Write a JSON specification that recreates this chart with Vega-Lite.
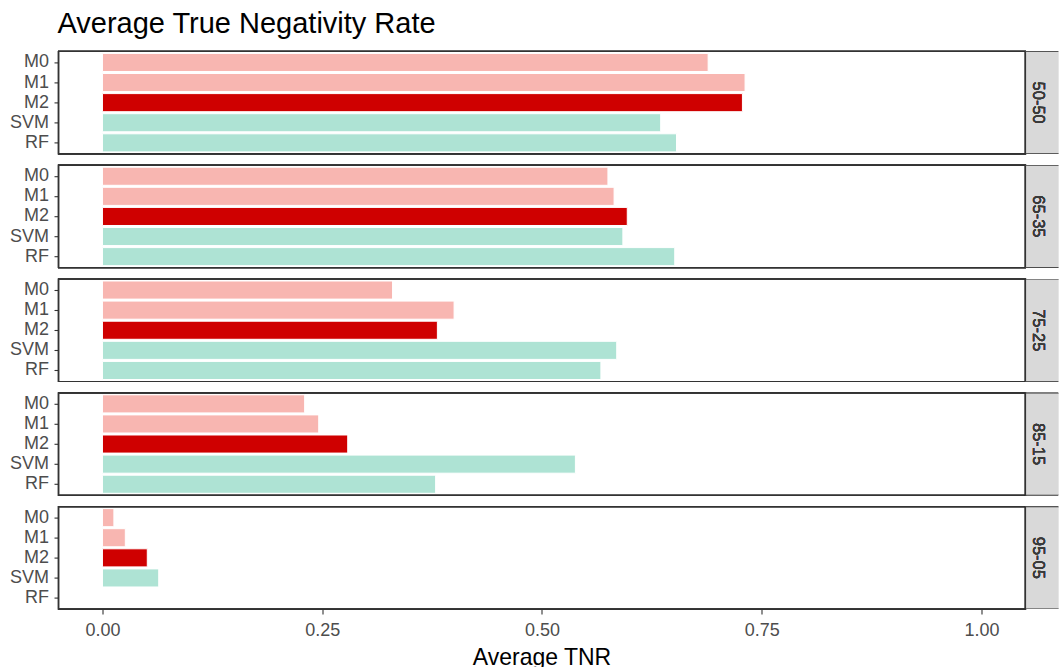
{
  "$schema": "https://vega.github.io/schema/vega-lite/v6.json",
  "padding": {"left": 8.5, "top": 10.4, "right": 0, "bottom": 0},
  "bounds": "flush",
  "title": {
    "text": "Average True Negativity Rate",
    "anchor": "start",
    "font": "Liberation Sans",
    "fontSize": 29,
    "fontWeight": "normal",
    "color": "#000000",
    "offset": 11.3,
    "dx": 48
  },
  "data": {
    "values": [
      {"split": "50-50", "model": "M0", "tnr": 0.689},
      {"split": "50-50", "model": "M1", "tnr": 0.731},
      {"split": "50-50", "model": "M2", "tnr": 0.728},
      {"split": "50-50", "model": "SVM", "tnr": 0.635},
      {"split": "50-50", "model": "RF", "tnr": 0.653},
      {"split": "65-35", "model": "M0", "tnr": 0.575},
      {"split": "65-35", "model": "M1", "tnr": 0.582},
      {"split": "65-35", "model": "M2", "tnr": 0.597},
      {"split": "65-35", "model": "SVM", "tnr": 0.592},
      {"split": "65-35", "model": "RF", "tnr": 0.651},
      {"split": "75-25", "model": "M0", "tnr": 0.330},
      {"split": "75-25", "model": "M1", "tnr": 0.400},
      {"split": "75-25", "model": "M2", "tnr": 0.381},
      {"split": "75-25", "model": "SVM", "tnr": 0.585},
      {"split": "75-25", "model": "RF", "tnr": 0.567},
      {"split": "85-15", "model": "M0", "tnr": 0.230},
      {"split": "85-15", "model": "M1", "tnr": 0.246},
      {"split": "85-15", "model": "M2", "tnr": 0.279},
      {"split": "85-15", "model": "SVM", "tnr": 0.538},
      {"split": "85-15", "model": "RF", "tnr": 0.379},
      {"split": "95-05", "model": "M0", "tnr": 0.013},
      {"split": "95-05", "model": "M1", "tnr": 0.026},
      {"split": "95-05", "model": "M2", "tnr": 0.051},
      {"split": "95-05", "model": "SVM", "tnr": 0.064},
      {"split": "95-05", "model": "RF", "tnr": 0.0}
    ]
  },
  "facet": {
    "row": {
      "field": "split",
      "type": "nominal",
      "sort": ["50-50", "65-35", "75-25", "85-15", "95-05"],
      "header": null
    }
  },
  "spacing": 10.8,
  "spec": {
    "width": 999.7,
    "height": 102.5,
    "encoding": {
      "x": {
        "field": "tnr",
        "type": "quantitative",
        "scale": {"domain": [-0.05, 1.0872], "nice": false, "zero": false},
        "axis": {
          "values": [0, 0.25, 0.5, 0.75, 1],
          "format": ".2f",
          "title": "Average TNR",
          "labelPadding": 8,
          "titleFontSize": 23,
          "titleX": 483,
          "titleY": 55,
          "titleAlign": "center",
          "titleBaseline": "alphabetic"
        }
      },
      "y": {
        "field": "model",
        "type": "nominal",
        "sort": ["M0", "M1", "M2", "SVM", "RF"],
        "scale": {"paddingInner": 0.1, "paddingOuter": 0.1},
        "axis": {"title": null, "labelPadding": 5.5}
      }
    },
    "layer": [
      {
        "mark": {"type": "bar", "stroke": "white", "strokeWidth": 1},
        "encoding": {
          "color": {
            "field": "model",
            "type": "nominal",
            "scale": {
              "domain": ["M0", "M1", "M2", "SVM", "RF"],
              "range": ["#F8B6B1", "#F8B6B1", "#CF0000", "#AEE3D4", "#AEE3D4"]
            },
            "legend": null
          }
        }
      },
      {
        "mark": {"type": "rect", "fill": "transparent", "stroke": "#333333", "strokeWidth": 1.2},
        "encoding": {
          "x": {"datum": -0.05},
          "x2": {"datum": 1.05},
          "y": null
        }
      },
      {
        "mark": {"type": "rect", "fill": "#D9D9D9", "stroke": "#333333", "strokeWidth": 1.2, "clip": true},
        "encoding": {
          "x": {"datum": 1.05},
          "x2": {"datum": 1.3},
          "y": null
        }
      },
      {
        "mark": {
          "type": "text",
          "angle": 90,
          "align": "center",
          "baseline": "middle",
          "font": "Liberation Sans",
          "fontSize": 16.5,
          "fontWeight": "normal",
          "color": "#3A3A3A"
        },
        "encoding": {
          "x": {"datum": 1.0637},
          "y": {"datum": "M2"},
          "text": {"field": "split"}
        }
      }
    ]
  },
  "config": {
    "view": {"stroke": null},
    "axis": {
      "labelFont": "Liberation Sans",
      "labelFontSize": 18,
      "labelColor": "#4D4D4D",
      "tickColor": "#333333",
      "tickSize": 4.5,
      "tickWidth": 1.1,
      "domain": false,
      "grid": false,
      "titleFont": "Liberation Sans",
      "titleFontWeight": "normal",
      "titleColor": "#000000"
    }
  }
}
